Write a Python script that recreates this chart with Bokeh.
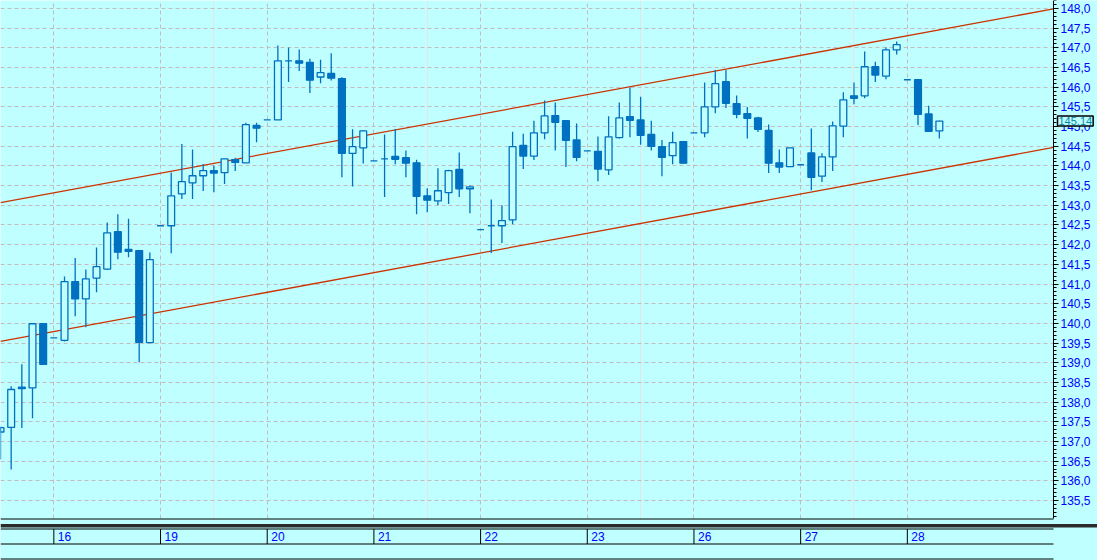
import numpy as np
from bokeh.plotting import figure
from bokeh.models import Range1d, FixedTicker, Label, ColumnDataSource, Grid, CustomJSTickFormatter
from bokeh.embed import file_html
from bokeh.resources import INLINE
from bokeh.core.properties import value

# ---------------- data ----------------
opens = [137.24, 137.36, 138.38, 138.36, 139.99, 139.63, 139.57, 141.06, 140.62, 141.15,
         141.38, 142.33, 141.88, 141.85, 139.51, 142.48, 142.48, 143.29, 143.57, 143.75,
         143.88, 143.83, 144.16, 144.08, 145.03, 145.17, 145.17, 146.67, 146.67, 146.63,
         146.26, 146.35, 146.22, 144.32, 144.46, 144.13, 144.18, 144.24, 144.21, 144.08,
         143.24, 143.11, 143.32, 143.91, 143.42, 142.38, 142.48, 142.48, 142.63, 144.52,
         144.25, 144.84, 145.28, 145.15, 144.66, 144.38, 144.37, 143.90, 144.72, 145.25,
         145.17, 144.80, 144.49, 144.26, 144.62, 144.84, 144.84, 145.50, 146.14, 145.58,
         145.33, 145.22, 144.90, 144.08, 143.98, 144.03, 144.33, 143.74, 144.23, 145.01,
         145.78, 145.78, 146.52, 146.28, 146.95, 146.19, 146.19, 145.32, 144.89]
highs = [137.38, 138.40, 138.96, 140.00, 140.00, 139.63, 141.19, 141.66, 141.37, 141.93,
         142.56, 142.77, 142.66, 141.85, 141.80, 142.48, 143.83, 144.56, 144.42, 144.05,
         144.01, 144.18, 144.21, 145.10, 145.10, 145.17, 147.06, 147.01, 146.96, 146.72,
         146.70, 146.86, 146.25, 144.93, 144.90, 144.13, 144.80, 144.94, 144.39, 144.16,
         143.43, 143.94, 143.90, 144.34, 143.50, 142.38, 143.15, 143.00, 144.87, 144.82,
         145.15, 145.66, 145.61, 145.16, 145.08, 144.38, 144.75, 145.26, 145.61, 145.99,
         145.76, 145.15, 144.66, 144.87, 144.62, 144.84, 146.12, 146.44, 146.44, 145.79,
         145.50, 145.25, 145.05, 144.42, 144.46, 144.03, 144.95, 144.32, 145.13, 145.87,
         146.12, 146.91, 146.65, 147.01, 147.16, 146.19, 146.19, 145.53, 145.15]
lows = [136.54, 136.29, 137.34, 137.59, 138.96, 139.63, 139.54, 140.18, 139.90, 140.79,
        141.36, 141.63, 141.68, 139.01, 139.50, 142.48, 141.78, 143.16, 143.16, 143.36,
        143.33, 143.54, 143.87, 144.08, 144.60, 145.17, 145.17, 146.13, 146.41, 145.85,
        146.10, 146.17, 143.71, 143.48, 144.06, 144.13, 143.21, 144.04, 143.71, 142.77,
        142.82, 143.00, 143.03, 143.21, 142.80, 142.38, 141.79, 142.04, 142.52, 143.92,
        144.15, 144.68, 144.39, 143.97, 144.12, 144.38, 143.61, 143.77, 144.70, 144.73,
        144.54, 144.39, 143.74, 144.04, 144.07, 144.84, 144.73, 145.34, 145.47, 145.21,
        144.70, 144.86, 143.82, 143.82, 143.98, 144.03, 143.38, 143.59, 143.87, 144.73,
        145.57, 145.72, 146.13, 146.20, 146.83, 146.19, 145.04, 144.88, 144.70]
closes = [137.35, 138.32, 138.34, 139.99, 138.96, 139.63, 141.06, 140.62, 141.13, 141.44,
          142.30, 141.81, 141.83, 139.52, 141.62, 142.48, 143.24, 143.60, 143.75, 143.88,
          143.82, 144.18, 144.09, 145.05, 144.96, 145.17, 146.67, 146.67, 146.61, 146.18,
          146.37, 146.23, 144.32, 144.49, 144.89, 144.13, 144.18, 144.17, 144.07, 143.23,
          143.13, 143.37, 143.88, 143.42, 143.47, 142.38, 142.48, 142.61, 144.49, 144.25,
          144.84, 145.27, 145.11, 144.65, 144.22, 144.38, 143.92, 144.74, 145.22, 145.16,
          144.78, 144.50, 144.22, 144.59, 144.07, 144.84, 145.50, 146.09, 145.59, 145.31,
          145.21, 144.93, 144.07, 143.97, 144.46, 144.03, 143.71, 144.23, 145.02, 145.68,
          145.72, 146.52, 146.31, 146.95, 147.08, 146.19, 145.31, 144.88, 145.14]

day_labels = ["16", "19", "20", "21", "22", "23", "26", "27", "28"]
day_start_index = [5, 15, 25, 35, 45, 55, 65, 75, 85]

channel_x = [0.0, 98.7]
channel_upper = [143.07, 147.99]
channel_lower = [139.54, 144.47]

last_price = 145.14
last_price_label = "145,14"

price_ticks = [135.5, 136.0, 136.5, 137.0, 137.5, 138.0, 138.5, 139.0, 139.5, 140.0,
               140.5, 141.0, 141.5, 142.0, 142.5, 143.0, 143.5, 144.0, 144.5, 145.0,
               145.5, 146.0, 146.5, 147.0, 147.5, 148.0]

# ---------------- styles / layout ----------------
BG = "#C0FFFF"
CANDLE = "#0070C0"
CHANNEL = "#CC3300"
GRID = "#C4BCBC"
LABEL_BLUE = "#0000FF"
FONT = "Liberation Sans"

W, H = 1097, 560
PX_PER_PRICE = 39.36
AXIS_PX = 1053            # x pixel of the price axis
PRICE_H = 518             # height of the price pane
X_START, X_AXIS = 0.0, 98.7
X_END = X_AXIS * W / AXIS_PX
Y_TOP = 148.203
Y_PRICE_BOTTOM = Y_TOP - PRICE_H / PX_PER_PRICE
Y_BOTTOM = Y_TOP - H / PX_PER_PRICE


def strip_y(px):
    """y value lying px pixels below the bottom of the price pane"""
    return Y_PRICE_BOTTOM - px / PX_PER_PRICE


idx = list(range(len(opens)))
tops = [max(o, c) for o, c in zip(opens, closes)]
bottoms = [min(o, c) for o, c in zip(opens, closes)]
fills = [BG if c > o else CANDLE for o, c in zip(opens, closes)]
src = ColumnDataSource(dict(x=idx, high=highs, low=lows, top=tops, bottom=bottoms, fill=fills))

p = figure(width=W, height=H,
           x_range=Range1d(X_START, X_END), y_range=Range1d(Y_BOTTOM, Y_TOP),
           x_axis_location=None, y_axis_location="right",
           output_backend="svg", toolbar_location=None, title=None, min_border=0,
           background_fill_color=BG, border_fill_color=BG, outline_line_color=None)

minor = [round(135.1 + 0.1 * i, 2) for i in range(132)]
yax = p.yaxis[0]
yax.fixed_location = X_AXIS
yax.ticker = FixedTicker(ticks=price_ticks, minor_ticks=minor)
yax.formatter = CustomJSTickFormatter(code="return tick.toFixed(1).replace('.', ',');")
yax.bounds = (Y_PRICE_BOTTOM, Y_TOP)
yax.axis_line_color = "black"
yax.major_tick_line_color = "black"
yax.minor_tick_line_color = "black"
yax.major_tick_in = 0
yax.major_tick_out = 5
yax.minor_tick_in = 0
yax.minor_tick_out = 3
yax.major_label_standoff = 2
yax.major_label_text_color = LABEL_BLUE
yax.major_label_text_font = FONT
yax.major_label_text_font_size = "12px"

p.ygrid.ticker = FixedTicker(ticks=price_ticks)
p.ygrid.grid_line_color = GRID
p.ygrid.grid_line_dash = "4 3"
p.add_layout(Grid(dimension=0, ticker=FixedTicker(ticks=day_start_index),
                  grid_line_color=GRID, grid_line_dash="4 3"))

# plain background over the axis margin and the date strip (hides grid lines there)
p.quad(left=[X_AXIS], right=[X_END], top=[Y_TOP], bottom=[Y_BOTTOM], fill_color=BG, line_color=None)
p.quad(left=[X_START], right=[X_END], top=[Y_PRICE_BOTTOM], bottom=[Y_BOTTOM],
       fill_color=BG, line_color=None)

p.line(channel_x, channel_upper, line_color=CHANNEL, line_width=1.3)
p.line(channel_x, channel_lower, line_color=CHANNEL, line_width=1.3)

p.segment(x0="x", y0="low", x1="x", y1="high", source=src, line_color=CANDLE, line_width=1.3)
p.vbar(x="x", width=0.64, top="top", bottom="bottom", source=src,
       fill_color="fill", line_color=CANDLE, line_width=1.3)

# ---------------- date strip ----------------
p.quad(left=[X_START], right=[X_END], top=[strip_y(5.5)], bottom=[strip_y(9.0)],
       fill_color="#2B2B2B", line_color=None)
hl = [strip_y(0.5), strip_y(10.5), strip_y(25.5), strip_y(40.5)]
p.segment(x0=[X_START] * 4, x1=[X_AXIS] * 4, y0=hl, y1=hl, line_color="black", line_width=1)
n = len(day_start_index)
p.segment(x0=day_start_index, x1=day_start_index, y0=[strip_y(10.5)] * n,
          y1=[strip_y(25.5)] * n, line_color="black", line_width=1)
p.text(x=day_start_index, y=[strip_y(18)] * n, text=day_labels, x_offset=4,
       text_baseline="middle", text_align="left", text_color=LABEL_BLUE,
       text_font=value(FONT), text_font_size="12px")

# last-price tag on the price axis
p.add_layout(Label(x=X_AXIS, y=last_price, x_offset=4, text=last_price_label,
                   text_align="left", text_baseline="middle", text_color="#0088AA",
                   text_font=FONT, text_font_size="11px",
                   border_line_color="black", border_line_width=1.5,
                   background_fill_color=BG, padding=1))

open("out.html", "w").write(file_html(p, INLINE))
